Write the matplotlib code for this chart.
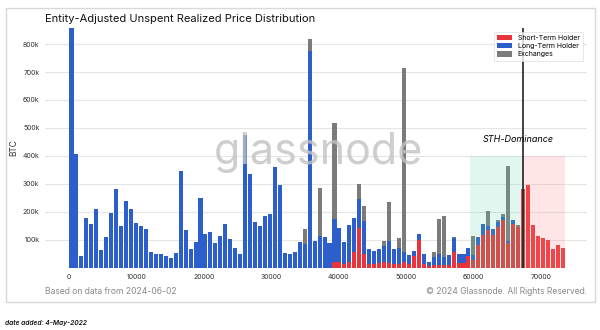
import numpy as np
import matplotlib.pyplot as plt
from matplotlib.patches import Rectangle
from matplotlib.ticker import FuncFormatter

plt.rcParams['font.family'] = ['Inter', 'DejaVu Sans']

# price bins (100 equal buckets up to the ATH)
bin_width = 736
n_bins = 100
bin_centers = [(i + 0.5) * bin_width for i in range(n_bins)]

# thousands of BTC per bucket
sth = [0] * 53 + [
    23, 23, 13, 23, 58, 143, 49, 13, 13, 19,
    21, 19, 13, 13, 23, 13, 43, 100, 13, 7,
    10, 12, 10, 12, 58, 17, 19, 43, 30, 82,
    119, 137, 119, 148, 171, 88, 158, 147, 282, 296,
    154, 114, 107, 99, 67, 81, 71]

lth = [
    860, 407, 43, 180, 158, 210, 64, 111, 196, 282,
    149, 239, 210, 160, 150, 138, 56, 49, 49, 44,
    37, 52, 346, 136, 68, 92, 250, 121, 129, 89,
    113, 158, 104, 71, 49, 476, 336, 164, 150, 185,
    192, 362, 296, 55, 49, 58, 93, 86, 775, 96,
    114, 111, 89, 151, 120, 80, 132, 121, 103, 120,
    55, 47, 48, 59, 79, 54, 58, 35, 32, 19,
    21, 36, 13, 30, 38, 28, 33, 48, 32, 30,
    28, 16, 29, 38, 14, 20, 15, 10, 8, 15,
    0, 0, 0, 0, 0, 0, 0, 0, 0, 0]

exch = [0] * 47 + [
    53, 43, 0, 172, 0, 0, 344, 0, 0, 0,
    0, 54, 52, 0, 0, 0, 16, 138, 0, 35,
    656, 0, 0, 0, 0, 0, 16, 125, 147, 0,
    3, 0, 0, 0, 68, 0, 0, 51, 0, 10,
    12, 269, 0, 5, 0, 0, 0, 0, 0, 0,
    0, 0, 0]

current_price = 67400
green_zone = (59500, 67400)
red_zone = (67400, 73600)
zone_height = 400

sth = np.array(sth) * 1000
lth = np.array(lth) * 1000
exch = np.array(exch) * 1000

fig = plt.figure(figsize=(6, 3.3), dpi=100)
ax = fig.add_axes([0.075, 0.188, 0.903, 0.727])

w = bin_width * 0.82
ax.bar(bin_centers, sth, width=w, color='#e8343a', label='Short-Term Holder', zorder=2)
ax.bar(bin_centers, lth, width=w, bottom=sth, color='#2c5fcc', label='Long-Term Holder', zorder=2)
ax.bar(bin_centers, exch, width=w, bottom=sth + lth, color='#7b7b7b', label='Exchanges', zorder=2)

ax.add_patch(Rectangle((green_zone[0], 0), green_zone[1] - green_zone[0], zone_height * 1000,
                       facecolor='#5fd6a8', alpha=0.18, lw=0, zorder=3))
ax.add_patch(Rectangle((red_zone[0], 0), red_zone[1] - red_zone[0], zone_height * 1000,
                       facecolor='#ff8a8a', alpha=0.22, lw=0, zorder=3))
ax.axvline(current_price, color='#222222', lw=1.2, zorder=4)
ax.text(66600, 460000, 'STH-Dominance', style='italic', fontsize=6.5, ha='center', va='center', zorder=5)

ax.set_xlim(-3560, 76800)
ax.set_ylim(0, 857000)
ax.set_xticks(range(0, 70001, 10000))
ax.set_yticks(range(100000, 800001, 100000))
ax.yaxis.set_major_formatter(FuncFormatter(lambda v, p: f'{int(v / 1000)}k'))
ax.tick_params(length=0, labelsize=5, colors='#333333', pad=4)
ax.grid(axis='y', color='#e6e6e6', lw=0.8, zorder=0)
ax.axhline(0, color='#e0e0e0', lw=0.8, zorder=1)
for s in ax.spines.values():
    s.set_visible(False)
ax.set_ylabel('BTC', fontsize=6, color='#333333', labelpad=3)

leg = ax.legend(loc='upper right', fontsize=5, frameon=True, fancybox=False,
                borderpad=0.5, handlelength=2.2, handleheight=0.8, labelspacing=0.3)
leg.get_frame().set_edgecolor('#dddddd')
leg.get_frame().set_linewidth(0.6)
leg.set_zorder(6)

fig.text(319 / 600, 1 - 152 / 330, 'glassnode', fontsize=31, color='#c2c2c2', alpha=0.8,
         ha='center', va='center', zorder=10)

fig.text(45 / 600, 1 - 19 / 330, 'Entity-Adjusted Unspent Realized Price Distribution',
         fontsize=8, color='#111111', va='center')
fig.text(45 / 600, 1 - 292 / 330, 'Based on data from 2024-06-02', fontsize=6.2,
         color='#8a8a8a', va='center')
fig.text(587 / 600, 1 - 292 / 330, '\u00a9 2024 Glassnode. All Rights Reserved.', fontsize=6.2,
         color='#8a8a8a', va='center', ha='right')
fig.text(5 / 600, 1 - 323 / 330, 'date added: 4-May-2022', fontsize=4.8, style='italic',
         fontweight='semibold', color='#111111', va='center')

fig.patches.append(Rectangle((6 / 600, 28 / 330), 589 / 600, 294 / 330, transform=fig.transFigure,
                             fill=False, edgecolor='#d9d9d9', lw=1))

fig.savefig('out.png', dpi=100)
